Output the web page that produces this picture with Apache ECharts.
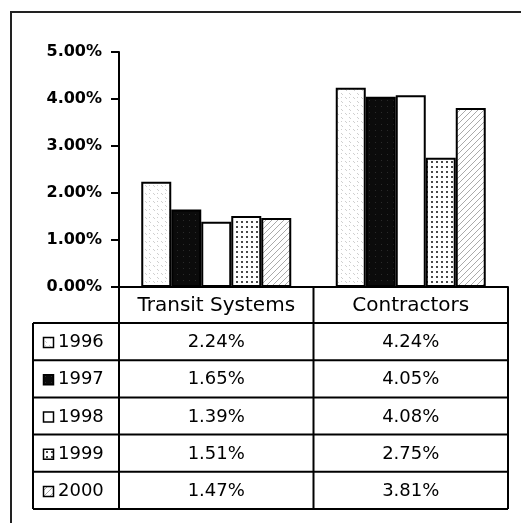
<!DOCTYPE html>
<html>
<head>
<meta charset="utf-8">
<script src="https://cdn.jsdelivr.net/npm/echarts@6/dist/echarts.min.js"></script>
<style>
  html, body { margin: 0; padding: 0; background: #fff; }
  #chart { width: 521px; height: 523px; }
</style>
</head>
<body>
<div id="chart"></div>
<script>
// Annual rates by sector
const categories = ['Transit Systems', 'Contractors'];
const years = ['1996', '1997', '1998', '1999', '2000'];
const transitRates = [2.24, 1.65, 1.39, 1.51, 1.47];
const contractorRates = [4.24, 4.05, 4.08, 2.75, 3.81];
const yMin = 0, yMax = 5, yStep = 1;

const FONT = "'DejaVu Sans', sans-serif";

// Small repeating fills for each year's bars
function makePattern(size, bg, draw) {
  const c = document.createElement('canvas');
  c.width = c.height = size;
  const g = c.getContext('2d');
  g.fillStyle = bg;
  g.fillRect(0, 0, size, size);
  if (draw) draw(g);
  return { image: c, repeat: 'repeat' };
}
const fills = [
  makePattern(8, '#fff', g => {          // light speckled diagonal
    g.fillStyle = '#cfcfcf';
    g.fillRect(1, 1, 1, 1); g.fillRect(2, 2, 1, 1);
    g.fillRect(5, 5, 1, 1); g.fillRect(6, 6, 1, 1);
    g.fillRect(5, 1, 1, 1);
  }),
  makePattern(6, '#0b0b0b', g => {       // solid dark
    g.fillStyle = '#2a2a2a';
    g.fillRect(3, 4, 1, 1);
  }),
  '#ffffff',                              // plain white
  makePattern(5, '#fff', g => {          // dot grid
    g.fillStyle = '#4a4a4a';
    g.fillRect(1, 1, 2, 2);
  }),
  makePattern(6, '#fff', g => {          // forward hatching
    g.fillStyle = '#aaaaaa';
    for (let i = 0; i < 6; i++) g.fillRect(5 - i, i, 1, 1);
  })
];

const chart = echarts.init(document.getElementById('chart'), null, { renderer: 'canvas' });

const series = years.map((yr, i) => ({
  name: yr,
  type: 'bar',
  data: [transitRates[i], contractorRates[i]],
  barWidth: 30,
  barGap: '0%',
  itemStyle: { color: fills[i], borderColor: '#000', borderWidth: 2 },
  emphasis: { disabled: true },
  animation: false
}));

chart.setOption({
  animation: false,
  backgroundColor: '#fff',
  grid: { left: 119, right: 13, top: 52, bottom: 236, containLabel: false },
  xAxis: {
    type: 'category',
    data: categories,
    axisLine: { lineStyle: { color: '#000', width: 2 } },
    axisTick: { show: false },
    axisLabel: { interval: 0, hideOverlap: false, color: '#000', fontFamily: FONT, fontSize: 20, margin: 9 }
  },
  yAxis: {
    type: 'value',
    min: yMin, max: yMax, interval: yStep,
    splitLine: { show: false },
    axisLine: { show: true, lineStyle: { color: '#000', width: 2 } },
    axisTick: { show: true, length: 8, lineStyle: { color: '#000', width: 2 } },
    axisLabel: {
      color: '#000', fontFamily: FONT, fontSize: 16, fontWeight: 'bold', margin: 17,
      formatter: v => v.toFixed(2) + '%'
    }
  },
  series: series
});

// Data table beneath the plot, aligned to the category axis
const xc = categories.map((_, i) => chart.convertToPixel({ xAxisIndex: 0 }, i));
const band = xc[1] - xc[0];
const colLeft = xc[0] - band / 2;
const colMid = xc[0] + band / 2;
const colRight = xc[1] + band / 2;
const y0 = chart.convertToPixel({ yAxisIndex: 0 }, 0);
const headerH = 36;
const rowH = 37.2;
const legendLeft = 33;
const tableTop = y0 + headerH;
const tableBottom = tableTop + rowH * years.length;

const line = (x1, y1, x2, y2, w) => ({
  type: 'line', silent: true,
  shape: { x1, y1, x2, y2 },
  style: { stroke: '#000', lineWidth: w || 2 }
});
const text = (t, x, y, align) => ({
  type: 'text', silent: true,
  style: {
    text: t, x, y, fill: '#000',
    font: "18px " + FONT,
    align: align, verticalAlign: 'middle',
    textAlign: align, textVerticalAlign: 'middle'
  }
});

const elements = [];
// outer frame
elements.push({
  type: 'rect', silent: true,
  shape: { x: 11, y: 12, width: 530, height: 530 },
  style: { fill: null, stroke: '#222', lineWidth: 2 }
});
// table grid
elements.push(line(colLeft, y0, colLeft, tableBottom));
elements.push(line(colMid, y0, colMid, tableBottom));
elements.push(line(colRight, y0, colRight, tableBottom));
elements.push(line(legendLeft, tableTop, legendLeft, tableBottom));
for (let r = 0; r <= years.length; r++) {
  const y = tableTop + rowH * r;
  elements.push(line(legendLeft, y, colRight, y));
}
// rows: legend key, year and the two values
years.forEach((yr, r) => {
  const cy = tableTop + rowH * r + rowH / 2 + 1;
  elements.push({
    type: 'rect', silent: true,
    shape: { x: 43.5, y: cy - 5, width: 10, height: 10 },
    style: { fill: fills[r], stroke: '#000', lineWidth: 1.5 }
  });
  elements.push(text(yr, 58, cy, 'left'));
  elements.push(text(transitRates[r].toFixed(2) + '%', xc[0], cy, 'center'));
  elements.push(text(contractorRates[r].toFixed(2) + '%', xc[1], cy, 'center'));
});

chart.setOption({ graphic: { elements } });
</script>
</body>
</html>
